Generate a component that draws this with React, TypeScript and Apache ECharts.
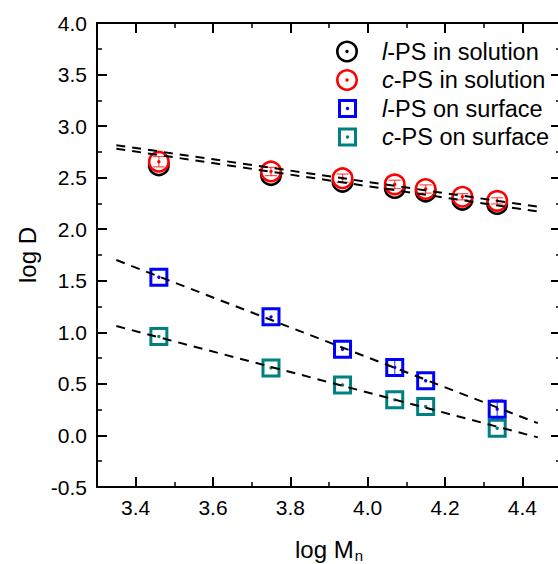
import React, { useEffect, useRef } from 'react';
import * as echarts from 'echarts';

// ---- data ----
const solutionMn = [3.46, 3.75, 3.935, 4.07, 4.15, 4.245, 4.335];
const surfaceMn = [3.46, 3.75, 3.935, 4.07, 4.15, 4.335];
const lSolution = [2.62, 2.525, 2.46, 2.4, 2.365, 2.285, 2.245];
const cSolution = [2.655, 2.56, 2.495, 2.435, 2.39, 2.315, 2.275];
const lSurface = [1.535, 1.15, 0.835, 0.66, 0.53, 0.255];
const cSurface = [0.96, 0.655, 0.49, 0.345, 0.28, 0.07];
const lSolutionErr = [0.04, 0.04, 0.04, 0.04, 0.04, 0.03, 0.03];
const cSolutionErr = [0.05, 0.04, 0.04, 0.04, 0.04, 0.03, 0.03];
const lSurfaceErr = [0, 0, 0, 0.08, 0, 0.09];
const cSurfaceErr = [0, 0, 0, 0, 0, 0];
const fitMn = [3.35, 4.44];
const lSolutionFit = [2.781, 2.172];
const cSolutionFit = [2.815, 2.218];
const lSurfaceFit = [1.701, 0.119];
const cSurfaceFit = [1.061, -0.019];
const legendPrefix = ['l', 'c', 'l', 'c'];
const legendSuffix = ['-PS in solution', '-PS in solution', '-PS on surface', '-PS on surface'];
const xTitle = 'log M';
const xTitleSub = 'n';
const yTitle = 'log D';

const FONT = '"Liberation Sans", Arial, Helvetica, sans-serif';
const BLACK = '#000000';
const RED = '#ff0000';
const BLUE = '#0000ff';
const TEAL = '#008080';

function markerSeries(name: string, xs: number[], ys: number[], errs: number[], color: string, shape: 'circle' | 'square', z: number) {
  return {
    type: 'custom',
    name,
    z,
    clip: false,
    data: xs.map((x, i) => [x, ys[i], errs[i]]),
    encode: { x: 0, y: 1 },
    renderItem: (_params: any, api: any) => {
      const x = api.value(0);
      const y = api.value(1);
      const e = api.value(2);
      const c = api.coord([x, y]);
      const children: any[] = [];
      if (shape === 'circle') {
        children.push({ type: 'circle', shape: { cx: c[0], cy: c[1], r: 9.7 }, style: { fill: '#ffffff', stroke: color, lineWidth: 2.6 } });
      } else {
        children.push({ type: 'rect', shape: { x: c[0] - 8, y: c[1] - 8, width: 16, height: 16 }, style: { fill: '#ffffff', stroke: color, lineWidth: 3 } });
      }
      if (e > 0) {
        const t = api.coord([x, y + e]);
        const b = api.coord([x, y - e]);
        const st = { stroke: color, lineWidth: 1.2, opacity: 0.7 };
        children.push({ type: 'line', shape: { x1: c[0], y1: t[1], x2: c[0], y2: b[1] }, style: st });
        children.push({ type: 'line', shape: { x1: c[0] - 6, y1: t[1], x2: c[0] + 6, y2: t[1] }, style: st });
        children.push({ type: 'line', shape: { x1: c[0] - 6, y1: b[1], x2: c[0] + 6, y2: b[1] }, style: st });
      }
      children.push({ type: 'circle', shape: { cx: c[0], cy: c[1], r: 1.7 }, style: { fill: color } });
      return { type: 'group', children };
    },
  };
}

function fitSeries(name: string, ys: number[]) {
  return {
    type: 'line',
    name,
    z: 5,
    silent: true,
    symbol: 'none',
    data: fitMn.map((x, i) => [x, ys[i]]),
    lineStyle: { color: BLACK, width: 2, type: [9, 7] },
  };
}

const axisCommon = {
  axisLine: { show: true, onZero: false, lineStyle: { color: BLACK, width: 2 } },
  axisTick: { show: true, inside: true, length: 10, lineStyle: { color: BLACK, width: 2 } },
  minorTick: { show: true, splitNumber: 2, length: 5, lineStyle: { color: BLACK, width: 1.5 } },
  splitLine: { show: false },
  minorSplitLine: { show: false },
};

export default function App() {
  const ref = useRef<HTMLDivElement>(null);
  useEffect(() => {
    if (!ref.current) return;
    const chart = echarts.init(ref.current, null, { renderer: 'svg' });
    const colors = [BLACK, RED, BLUE, TEAL];
    const legendY = [51.5, 80, 108.5, 137];
    const legendGraphics: any[] = [];
    legendY.forEach((ly, i) => {
      if (i < 2) {
        legendGraphics.push({ type: 'circle', shape: { cx: 347, cy: ly, r: 9.7 }, style: { fill: '#fff', stroke: colors[i], lineWidth: 2.6 }, z: 10 });
      } else {
        legendGraphics.push({ type: 'rect', shape: { x: 339.5, y: ly - 8, width: 16, height: 16 }, style: { fill: '#fff', stroke: colors[i], lineWidth: 3 }, z: 10 });
      }
      legendGraphics.push({ type: 'circle', shape: { cx: i < 2 ? 347 : 347.5, cy: ly, r: 1.7 }, style: { fill: colors[i] }, z: 11 });
      legendGraphics.push({
        type: 'text',
        x: 382,
        y: ly,
        z: 10,
        style: {
          text: `{i|${legendPrefix[i]}}{r|${legendSuffix[i]}}`,
          fill: BLACK,
          fontSize: 23.5,
          fontFamily: FONT,
          verticalAlign: 'middle',
          align: 'left',
          rich: {
            i: { fontStyle: 'italic', fontSize: 23.5, fontFamily: FONT, fill: BLACK },
            r: { fontSize: 23.5, fontFamily: FONT, fill: BLACK },
          },
        },
      });
    });

    chart.setOption({
      animation: false,
      backgroundColor: '#ffffff',
      grid: { left: 97, right: -3, top: 23, bottom: 77, containLabel: false, outerBoundsMode: 'none' },
      xAxis: [
        {
          type: 'value',
          position: 'bottom',
          min: 3.3,
          max: 4.5,
          ...axisCommon,
          axisLabel: {
            show: true,
            showMinLabel: false,
            showMaxLabel: false,
            margin: 10,
            color: BLACK,
            fontSize: 21,
            fontFamily: FONT,
            formatter: (v: number) => v.toFixed(1),
          },
          name: `{a|${xTitle}}{b|${xTitleSub}}`,
          nameLocation: 'middle',
          nameGap: 50,
          nameTextStyle: {
            rich: {
              a: { fontSize: 24, fontFamily: FONT, color: BLACK, verticalAlign: 'top', lineHeight: 28 },
              b: { fontSize: 15, fontFamily: FONT, color: BLACK, verticalAlign: 'top', lineHeight: 18, padding: [11, 0, 0, 1] },
            },
          },
        },
        {
          type: 'value',
          position: 'top',
          min: 3.3,
          max: 4.5,
          ...axisCommon,
          axisLabel: { show: false },
        },
      ],
      yAxis: [
        {
          type: 'value',
          position: 'left',
          min: -0.5,
          max: 4.0,
          interval: 0.5,
          ...axisCommon,
          axisLabel: {
            show: true,
            margin: 10,
            color: BLACK,
            fontSize: 21,
            fontFamily: FONT,
            formatter: (v: number) => v.toFixed(1),
          },
          name: yTitle,
          nameLocation: 'middle',
          nameGap: 56,
          nameRotate: 90,
          nameTextStyle: { fontSize: 24, fontFamily: FONT, color: BLACK },
        },
        {
          type: 'value',
          position: 'right',
          min: -0.5,
          max: 4.0,
          interval: 0.5,
          ...axisCommon,
          axisLabel: { show: false },
        },
      ],
      series: [
        markerSeries('l-PS in solution', solutionMn, lSolution, lSolutionErr, BLACK, 'circle', 2),
        markerSeries('c-PS in solution', solutionMn, cSolution, cSolutionErr, RED, 'circle', 3),
        markerSeries('l-PS on surface', surfaceMn, lSurface, lSurfaceErr, BLUE, 'square', 2),
        markerSeries('c-PS on surface', surfaceMn, cSurface, cSurfaceErr, TEAL, 'square', 2),
        fitSeries('l-PS solution fit', lSolutionFit),
        fitSeries('c-PS solution fit', cSolutionFit),
        fitSeries('l-PS surface fit', lSurfaceFit),
        fitSeries('c-PS surface fit', cSurfaceFit),
      ],
      graphic: legendGraphics,
    });
    return () => chart.dispose();
  }, []);
  return <div ref={ref} style={{ position: 'fixed', left: 0, top: 0, width: 558, height: 564, background: '#fff' }} />;
}
